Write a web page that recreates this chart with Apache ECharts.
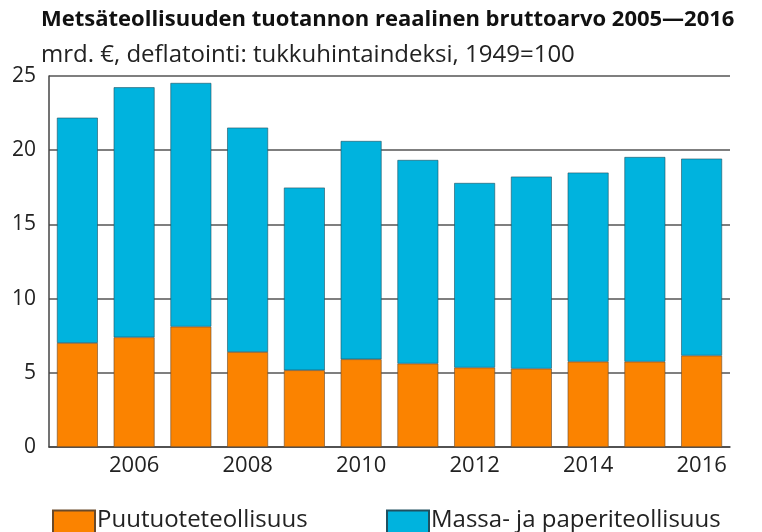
<!DOCTYPE html>
<html>
<head>
<meta charset="utf-8">
<script src="https://cdn.jsdelivr.net/npm/echarts@6/dist/echarts.min.js"></script>
<style>
  html, body { margin: 0; padding: 0; background: #fff; }
  #chart { width: 762px; height: 532px; }
</style>
</head>
<body>
<div id="chart"></div>
<script>
// vuodet
const years = ["2005", "2006", "2007", "2008", "2009", "2010",
  "2011", "2012", "2013", "2014", "2015", "2016"];
// Puutuoteteollisuus, mrd. €
const puutuote = [7.01, 7.39, 8.11, 6.40, 5.17, 5.91, 5.62, 5.35, 5.28, 5.75, 5.75, 6.16];
// Massa- ja paperiteollisuus, mrd. €
const massaPaperi = [15.18, 16.85, 16.42, 15.12, 12.31, 14.71, 13.72, 12.44, 12.94, 12.74, 13.79, 13.27];
const yTicks = [0, 5, 10, 15, 20, 25];

const FONT = "Open Sans";
const chart = echarts.init(document.getElementById("chart"));

// legendan teksti hieman ylemmäs
const legendText = {
  fontFamily: FONT,
  fontSize: 24,
  color: "#222",
  padding: [0, 0, 0, -3],
  rich: {
    t: { fontFamily: FONT, fontSize: 24, color: "#222", padding: [0, 0, 11, 0] },
  },
};

const option = {
  animation: false,
  title: {
    text: "Metsäteollisuuden tuotannon reaalinen bruttoarvo 2005—2016",
    subtext: "mrd. €, deflatointi: tukkuhintaindeksi, 1949=100",
    left: 41,
    top: 9,
    itemGap: 12,
    padding: [0, 0, 0, 0],
    textStyle: {
      fontFamily: FONT,
      fontWeight: "bold",
      fontSize: 22,
      color: "#111",
    },
    subtextStyle: {
      fontFamily: FONT,
      fontSize: 24,
      color: "#222",
    },
  },
  legend: [
    {
      data: ["Puutuoteteollisuus"],
      left: 47,
      top: 503,
      icon: "rect",
      itemWidth: 42,
      itemHeight: 30,
      formatter: "{t|{name}}",
      textStyle: legendText,
    },
    {
      data: ["Massa- ja paperiteollisuus"],
      left: 381,
      top: 503,
      icon: "rect",
      itemWidth: 42,
      itemHeight: 30,
      formatter: "{t|{name}}",
      textStyle: legendText,
    },
  ],
  grid: {
    left: 49,
    right: 32,
    top: 76,
    bottom: 85,
  },
  xAxis: {
    type: "category",
    data: years,
    axisLine: { lineStyle: { color: "#444", width: 1.5 } },
    axisTick: { show: false },
    axisLabel: {
      interval: function (i) { return i % 2 === 1; },
      fontFamily: FONT,
      fontSize: 22,
      color: "#222",
      margin: 8,
    },
  },
  yAxis: {
    type: "value",
    min: yTicks[0],
    max: yTicks[yTicks.length - 1],
    interval: 5,
    axisLine: { show: true, lineStyle: { color: "#444", width: 1.5 } },
    axisTick: { show: false },
    axisLabel: {
      fontFamily: FONT,
      fontSize: 21,
      color: "#222",
      margin: 13,
    },
    splitLine: { lineStyle: { color: "#555", width: 1.5 } },
  },
  series: [
    {
      name: "Puutuoteteollisuus",
      type: "bar",
      stack: "total",
      data: puutuote,
      barWidth: "72%",
      itemStyle: { color: "#fb8300", borderColor: "#6a4a2a", borderWidth: 0.6 },
    },
    {
      name: "Massa- ja paperiteollisuus",
      type: "bar",
      stack: "total",
      data: massaPaperi,
      barWidth: "72%",
      itemStyle: { color: "#00b3de", borderColor: "#205060", borderWidth: 0.6 },
    },
  ],
};

chart.setOption(option);
</script>
</body>
</html>
